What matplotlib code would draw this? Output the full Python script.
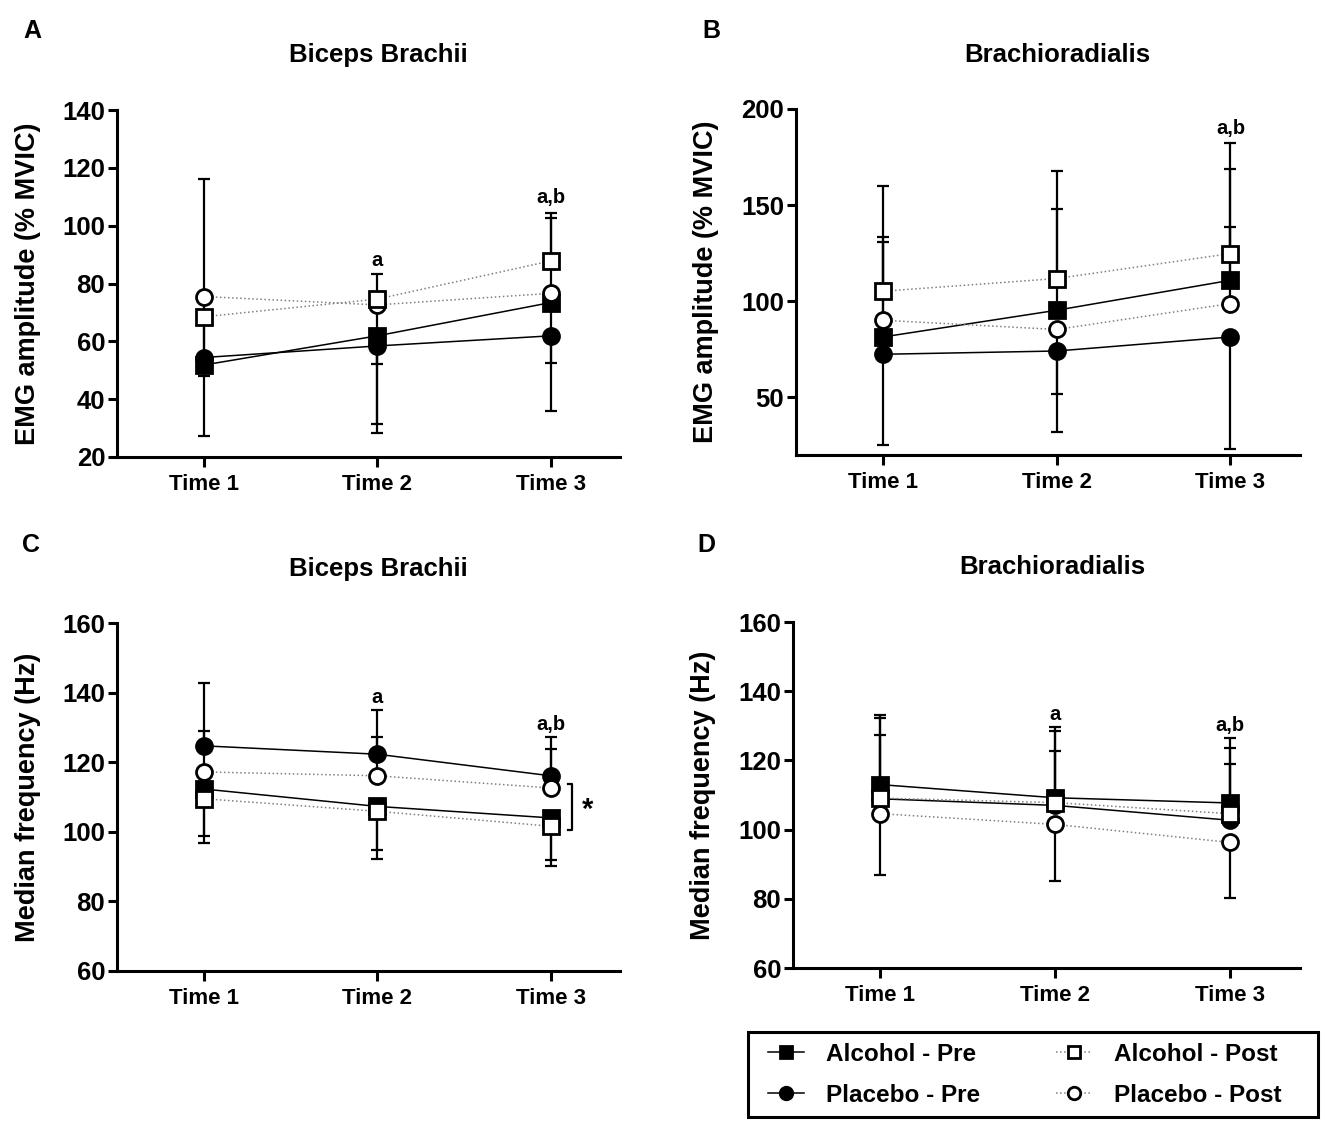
import matplotlib
matplotlib.use('Agg')
import matplotlib.pyplot as plt
from matplotlib.lines import Line2D
from matplotlib.patches import Rectangle

plt.rcParams['font.family'] = ['Liberation Sans', 'DejaVu Sans']
plt.rcParams['font.weight'] = 'bold'

# categories
times = ['Time 1', 'Time 2', 'Time 3']
x_pos = [1, 2, 3]

# panel A - biceps brachii EMG amplitude (% MVIC)
a_alc_pre = [51.8, 61.9, 73.4]
a_plc_pre = [54.4, 58.4, 61.9]
a_alc_post = [68.5, 74.6, 87.8]
a_plc_post = [75.5, 72.6, 76.6]
# error bars as (lower, upper)
a_alc_pre_err = [[0, 30.6, 0], [64.2, 0, 29.4]]
a_plc_pre_err = [[27.2, 30.0, 26.0], [0, 0, 0]]
a_alc_post_err = [[20.5, 0, 0], [0, 8.6, 16.7]]
a_plc_post_err = [[0, 20.5, 24.0], [0, 0, 0]]

# panel B - brachioradialis EMG amplitude (% MVIC)
b_alc_pre = [81.4, 95.3, 110.9]
b_plc_pre = [72.4, 74.1, 81.4]
b_alc_post = [105.2, 111.8, 124.8]
b_plc_post = [90.1, 85.3, 98.8]
b_alc_pre_err = [[0, 0, 0], [49.5, 52.6, 57.9]]
b_plc_pre_err = [[47.4, 42.2, 58.1], [0, 0, 0]]
b_alc_post_err = [[0, 0, 0], [54.9, 56.1, 57.3]]
b_plc_post_err = [[0, 33.7, 0], [43.4, 0, 39.9]]

# panel C - biceps brachii median frequency (Hz)
c_alc_pre = [112.3, 107.3, 104.0]
c_plc_pre = [124.7, 122.3, 116.1]
c_alc_post = [109.5, 105.9, 101.6]
c_plc_post = [117.2, 116.1, 112.6]
c_alc_pre_err = [[15.5, 12.6, 12.2], [0, 0, 0]]
c_plc_pre_err = [[0, 0, 0], [18.2, 12.7, 11.0]]
c_alc_post_err = [[10.8, 13.6, 11.5], [0, 0, 0]]
c_plc_post_err = [[0, 0, 0], [11.8, 11.1, 11.2]]

# panel D - brachioradialis median frequency (Hz)
d_alc_pre = [113.0, 109.2, 107.7]
d_plc_pre = [108.9, 107.0, 102.7]
d_alc_post = [109.1, 107.8, 104.6]
d_plc_post = [104.6, 101.5, 96.3]
d_alc_pre_err = [[0, 0, 0], [20.1, 20.4, 18.8]]
d_plc_pre_err = [[0, 0, 0], [18.3, 15.6, 16.3]]
d_alc_post_err = [[0, 0, 0], [23.1, 20.8, 18.9]]
d_plc_post_err = [[17.8, 16.3, 16.0], [0, 0, 0]]

labels = ['Alcohol - Pre', 'Placebo - Pre', 'Alcohol - Post', 'Placebo - Post']

W, H = 1327, 1125


def fig_rect(left, top, right, bottom):
    """convert pixel box to figure fraction rect"""
    return [left / W, 1 - bottom / H, (right - left) / W, (bottom - top) / H]


# series styles: marker, face colour, line style, line colour, zorder
styles = [
    ('s', 'black', '-', 'black', 3),
    ('o', 'black', '-', 'black', 4),
    ('s', 'white', ':', '#808080', 6),
    ('o', 'white', ':', '#808080', 5),
]


def draw_panel(ax, series, errs, ylim, yticks, ylabel):
    for (m, fc, ls, lc, z), vals, err in zip(styles, series, errs):
        ax.errorbar(x_pos, vals, yerr=err, fmt='none', ecolor='black',
                    elinewidth=1.6, capsize=4, capthick=1.6, zorder=z - 0.5)
        ax.plot(x_pos, vals, linestyle=ls, color=lc, linewidth=1.1,
                zorder=z - 0.6)
        ax.plot(x_pos, vals, linestyle='none', marker=m, markersize=11.5,
                markerfacecolor=fc, markeredgecolor='black',
                markeredgewidth=2.0, zorder=z)
    ax.set_xlim(0.5, 3.4)
    ax.set_ylim(*ylim)
    ax.set_yticks(yticks)
    ax.set_xticks(x_pos)
    ax.set_xticklabels(times, fontsize=16, fontweight='bold')
    ax.tick_params(axis='y', labelsize=18.5, width=2.2, length=6.5, pad=2)
    ax.tick_params(axis='x', width=2.2, length=7, pad=5)
    for lab in ax.get_yticklabels():
        lab.set_fontweight('bold')
    for side in ['top', 'right']:
        ax.spines[side].set_visible(False)
    for side in ['left', 'bottom']:
        ax.spines[side].set_linewidth(2.2)
    ax.set_ylabel(ylabel, fontsize=19.5, fontweight='bold')
    ax.yaxis.set_label_coords(-0.152, 0.5)


def main():
    fig = plt.figure(figsize=(W / 100, H / 100), dpi=100)

    ax_a = fig.add_axes(fig_rect(117, 110, 620, 457))
    ax_b = fig.add_axes(fig_rect(796, 109, 1300, 455))
    ax_c = fig.add_axes(fig_rect(117, 623, 620, 971))
    ax_d = fig.add_axes(fig_rect(793, 622, 1300, 968))

    amp_label = 'EMG amplitude (% MVIC)'
    freq_label = 'Median frequency (Hz)'

    draw_panel(ax_a, [a_alc_pre, a_plc_pre, a_alc_post, a_plc_post],
               [a_alc_pre_err, a_plc_pre_err, a_alc_post_err, a_plc_post_err],
               (20, 140), range(20, 141, 20), amp_label)
    draw_panel(ax_b, [b_alc_pre, b_plc_pre, b_alc_post, b_plc_post],
               [b_alc_pre_err, b_plc_pre_err, b_alc_post_err, b_plc_post_err],
               (20, 200), [50, 100, 150, 200], amp_label)
    draw_panel(ax_c, [c_alc_pre, c_plc_pre, c_alc_post, c_plc_post],
               [c_alc_pre_err, c_plc_pre_err, c_alc_post_err, c_plc_post_err],
               (60, 160), range(60, 161, 20), freq_label)
    draw_panel(ax_d, [d_alc_pre, d_plc_pre, d_alc_post, d_plc_post],
               [d_alc_pre_err, d_plc_pre_err, d_alc_post_err, d_plc_post_err],
               (60, 160), range(60, 161, 20), freq_label)

    # significance letters
    note = dict(ha='center', va='center', fontsize=14.5, fontweight='bold')
    ax_a.text(2, 87.8, 'a', **note)
    ax_a.text(3, 109.7, 'a,b', **note)
    ax_b.text(3, 190, 'a,b', **note)
    ax_c.text(2, 138.6, 'a', **note)
    ax_c.text(3, 130.7, 'a,b', **note)
    ax_d.text(2, 133.4, 'a', **note)
    ax_d.text(3, 130.0, 'a,b', **note)

    # bracket with asterisk in panel C
    ax_c.plot([3.10, 3.123, 3.123, 3.10], [113.7, 113.7, 100.4, 100.4],
              color='black', linewidth=1.6, clip_on=False)
    ax_c.text(3.215, 106.4, '*', ha='center', va='center', fontsize=21,
              fontweight='bold')

    # titles and panel letters
    title_kw = dict(ha='center', va='center', fontsize=18.5, fontweight='bold')
    fig.text(378 / W, 1 - 55 / H, 'Biceps Brachii', **title_kw)
    fig.text(1057 / W, 1 - 55 / H, 'Brachioradialis', **title_kw)
    fig.text(378 / W, 1 - 569 / H, 'Biceps Brachii', **title_kw)
    fig.text(1052 / W, 1 - 567 / H, 'Brachioradialis', **title_kw)

    letter_kw = dict(ha='center', va='center', fontsize=18, fontweight='bold')
    fig.text(32 / W, 1 - 31 / H, 'A', **letter_kw)
    fig.text(711 / W, 1 - 31 / H, 'B', **letter_kw)
    fig.text(31 / W, 1 - 545 / H, 'C', **letter_kw)
    fig.text(706 / W, 1 - 545 / H, 'D', **letter_kw)

    # legend box drawn by hand, entries placed inside it
    box = Rectangle((748 / W, 1 - 1117 / H), 570 / W, 85 / H,
                    transform=fig.transFigure, facecolor='white',
                    edgecolor='black', linewidth=2.2)
    fig.patches.append(box)

    handles = []
    for m, fc, ls, lc, z in styles:
        handles.append(Line2D([], [], marker=m, markersize=9,
                              markerfacecolor=fc, markeredgecolor='black',
                              markeredgewidth=2.0, linestyle=ls, color=lc,
                              linewidth=1.1))
    fig.legend(handles, labels, ncol=2, loc='upper left',
               bbox_to_anchor=(768 / W, 1 - 1043 / H),
               borderaxespad=0, borderpad=0, frameon=False,
               handlelength=1.5, handletextpad=0.9, labelspacing=0.74,
               columnspacing=3.1, prop={'size': 17.5, 'weight': 'bold'})

    fig.savefig('out.png', dpi=100)


if __name__ == '__main__':
    main()
